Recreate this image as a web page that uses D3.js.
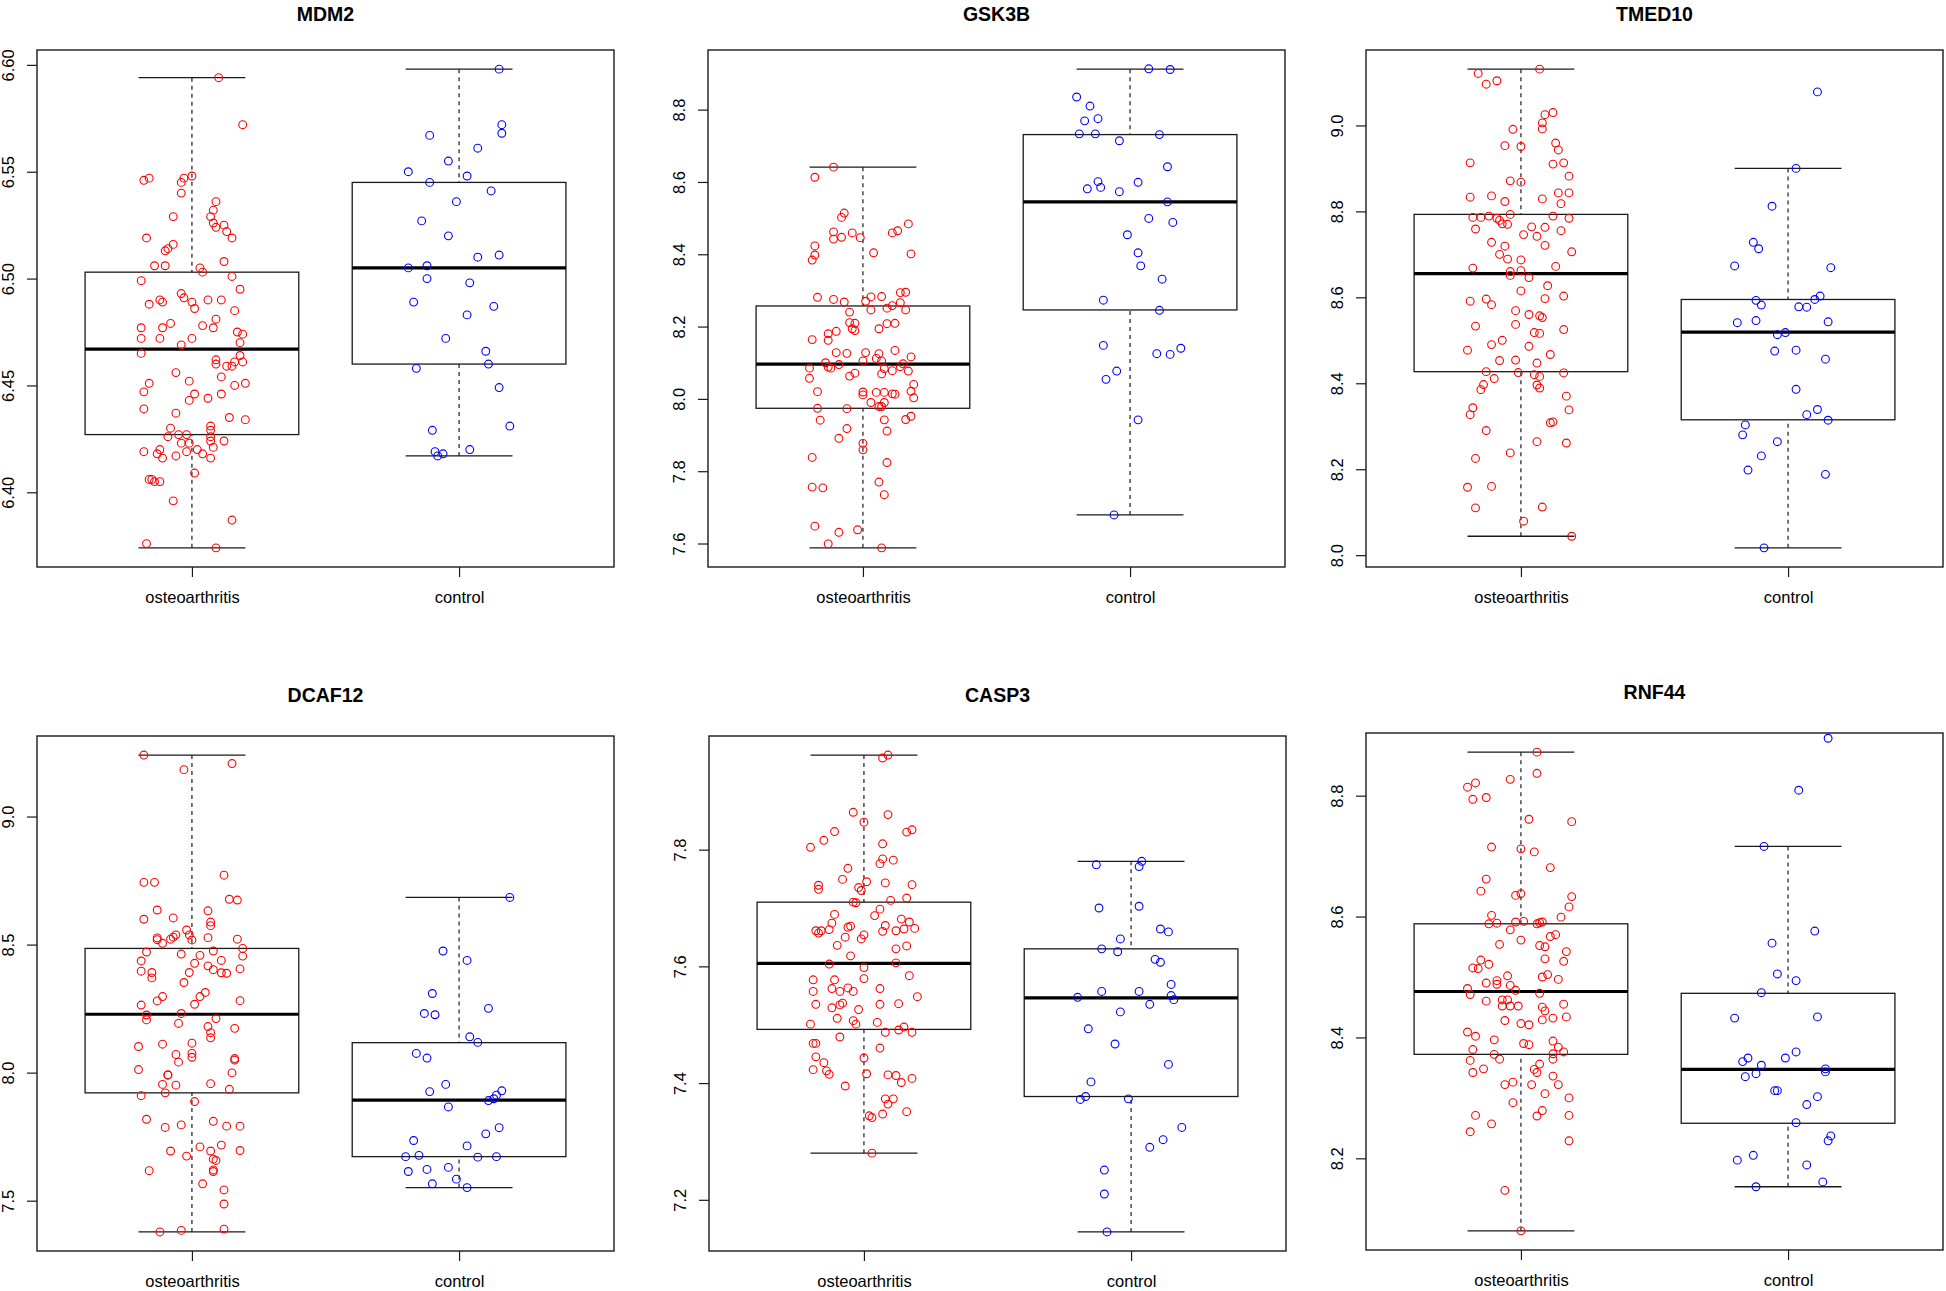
<!doctype html>
<html>
<head>
<meta charset="utf-8"/>
<title>Gene expression boxplots</title>
<script src="https://d3js.org/d3.v7.min.js"></script>
<style>
	body { margin: 0; background: #fff; }
	svg text { font-family: "Liberation Sans", Arial, Helvetica, sans-serif; }
</style>
</head>
<body>
<svg id="chart"></svg>
<script>
// groups and genes
var groupNames = ["osteoarthritis", "control"];
var genes = ["MDM2", "GSK3B", "TMED10", "DCAF12", "CASP3", "RNF44"];

// points: [jitter offset (group units), expression value]
var mdm2OA = [[0.10,6.594],[0.19,6.572],[-0.18,6.546],[-0.16,6.547],[-0.04,6.545],[-0.03,6.547],[0.00,6.548],[-0.04,6.540],[0.09,6.536],[0.08,6.532],[-0.07,6.529],[0.07,6.529],[0.08,6.526],[0.12,6.525],[0.13,6.522],[0.09,6.524],[-0.17,6.519],[0.15,6.519],[-0.07,6.516],[-0.09,6.514],[-0.10,6.513],[-0.14,6.506],[-0.10,6.506],[0.03,6.505],[0.04,6.503],[0.12,6.508],[0.15,6.501],[-0.19,6.499],[0.18,6.495],[-0.04,6.493],[-0.03,6.491],[-0.16,6.488],[-0.12,6.490],[-0.11,6.489],[0.00,6.489],[0.01,6.486],[0.06,6.490],[0.11,6.490],[0.16,6.485],[0.09,6.481],[-0.08,6.479],[-0.11,6.477],[-0.19,6.477],[0.04,6.478],[0.08,6.477],[-0.19,6.472],[-0.12,6.472],[0.00,6.472],[-0.04,6.469],[0.17,6.475],[0.19,6.474],[0.18,6.470],[-0.19,6.465],[0.18,6.464],[0.19,6.461],[0.09,6.462],[0.09,6.460],[0.13,6.459],[0.15,6.459],[0.16,6.461],[-0.06,6.456],[-0.16,6.451],[-0.18,6.447],[-0.01,6.452],[0.01,6.446],[0.11,6.454],[0.16,6.450],[0.20,6.451],[0.11,6.446],[0.06,6.444],[-0.01,6.443],[-0.18,6.439],[-0.06,6.437],[0.14,6.435],[0.20,6.434],[-0.08,6.430],[0.07,6.431],[0.07,6.429],[-0.09,6.426],[-0.05,6.427],[-0.02,6.427],[0.07,6.426],[0.07,6.424],[-0.04,6.423],[-0.01,6.423],[0.12,6.424],[-0.12,6.420],[-0.18,6.419],[0.02,6.420],[0.08,6.421],[-0.02,6.419],[-0.13,6.418],[-0.11,6.416],[-0.06,6.417],[0.04,6.418],[0.07,6.416],[0.01,6.409],[-0.16,6.406],[-0.15,6.406],[-0.14,6.405],[-0.12,6.405],[-0.07,6.396],[0.15,6.387],[-0.17,6.376],[0.09,6.374]];
var mdm2Ctrl = [[0.15,6.598],[0.16,6.572],[0.16,6.568],[-0.11,6.567],[0.07,6.561],[-0.04,6.555],[-0.19,6.550],[0.03,6.548],[-0.11,6.545],[0.12,6.541],[-0.01,6.536],[-0.14,6.527],[-0.04,6.520],[0.15,6.511],[0.07,6.510],[-0.19,6.505],[-0.12,6.506],[-0.12,6.500],[0.04,6.498],[-0.17,6.489],[0.13,6.487],[0.03,6.483],[-0.05,6.472],[0.10,6.466],[0.11,6.460],[-0.16,6.458],[0.15,6.449],[-0.10,6.429],[0.19,6.431],[0.04,6.420],[-0.09,6.419],[-0.08,6.417],[-0.06,6.418]];

var gsk3bOA = [[-0.11,8.641],[-0.18,8.613],[-0.07,8.514],[-0.08,8.502],[0.17,8.484],[-0.11,8.462],[-0.04,8.459],[0.11,8.459],[0.13,8.465],[-0.08,8.447],[-0.01,8.446],[-0.11,8.442],[-0.18,8.423],[-0.18,8.398],[-0.19,8.384],[0.04,8.404],[0.18,8.401],[-0.17,8.281],[-0.11,8.275],[-0.07,8.268],[0.03,8.282],[0.07,8.283],[0.01,8.270],[0.14,8.294],[0.16,8.295],[0.14,8.266],[0.11,8.258],[0.09,8.251],[0.03,8.246],[0.16,8.246],[-0.05,8.240],[-0.05,8.211],[-0.03,8.209],[0.09,8.208],[0.12,8.209],[-0.04,8.194],[-0.03,8.189],[0.06,8.194],[-0.10,8.187],[-0.13,8.180],[-0.19,8.164],[-0.13,8.162],[-0.10,8.128],[-0.06,8.126],[0.01,8.128],[0.06,8.125],[0.12,8.134],[0.18,8.116],[0.05,8.112],[0.07,8.105],[0.00,8.105],[-0.14,8.100],[-0.09,8.095],[0.15,8.097],[0.14,8.089],[-0.13,8.088],[-0.12,8.085],[-0.20,8.085],[0.08,8.084],[0.11,8.078],[0.17,8.077],[-0.03,8.071],[0.07,8.069],[-0.05,8.063],[-0.20,8.057],[0.19,8.040],[-0.17,8.020],[0.00,8.019],[0.05,8.018],[0.08,8.018],[0.11,8.014],[0.12,8.013],[0.18,8.021],[0.00,8.011],[0.19,8.003],[0.03,7.990],[0.08,7.990],[0.06,7.979],[0.07,7.979],[-0.17,7.974],[-0.06,7.973],[-0.16,7.941],[0.08,7.942],[0.16,7.943],[0.18,7.952],[-0.06,7.918],[0.09,7.911],[-0.09,7.891],[0.00,7.877],[0.00,7.859],[-0.19,7.838],[0.09,7.824],[-0.19,7.756],[-0.15,7.754],[0.06,7.770],[0.08,7.735],[-0.18,7.648],[-0.09,7.631],[-0.02,7.638],[-0.13,7.599],[0.07,7.588]];
var gsk3bCtrl = [[0.07,8.913],[0.15,8.911],[-0.20,8.835],[-0.15,8.810],[-0.17,8.769],[-0.12,8.775],[-0.19,8.733],[-0.13,8.733],[0.11,8.731],[-0.04,8.714],[0.14,8.642],[-0.12,8.601],[-0.16,8.581],[-0.11,8.585],[0.03,8.599],[-0.04,8.573],[0.14,8.545],[0.07,8.499],[0.16,8.488],[-0.01,8.454],[0.03,8.404],[0.04,8.368],[0.12,8.331],[-0.10,8.273],[0.11,8.245],[-0.10,8.148],[0.19,8.140],[0.10,8.125],[0.15,8.123],[-0.05,8.077],[-0.09,8.054],[0.03,7.942],[-0.06,7.679]];

var tmed10OA = [[0.07,9.131],[-0.16,9.121],[-0.13,9.096],[-0.09,9.104],[0.12,9.030],[0.09,9.025],[0.08,9.006],[0.08,8.992],[-0.03,8.991],[-0.06,8.953],[0.00,8.951],[0.13,8.959],[0.14,8.943],[-0.19,8.913],[0.12,8.910],[0.16,8.913],[0.18,8.882],[-0.04,8.871],[0.00,8.868],[0.14,8.843],[0.18,8.843],[-0.19,8.833],[-0.11,8.836],[-0.06,8.823],[0.08,8.829],[0.15,8.818],[-0.18,8.786],[-0.15,8.786],[-0.12,8.789],[-0.09,8.784],[-0.08,8.779],[-0.07,8.771],[-0.05,8.770],[-0.04,8.793],[0.12,8.789],[0.18,8.784],[-0.17,8.759],[0.04,8.764],[0.09,8.763],[0.01,8.746],[0.06,8.742],[0.15,8.755],[-0.11,8.728],[-0.06,8.719],[0.09,8.721],[0.19,8.706],[-0.08,8.700],[-0.05,8.689],[0.00,8.687],[-0.18,8.668],[0.13,8.672],[0.00,8.662],[-0.04,8.660],[-0.04,8.651],[0.03,8.646],[0.10,8.627],[0.00,8.615],[0.16,8.603],[-0.19,8.591],[-0.13,8.596],[-0.11,8.583],[0.09,8.597],[-0.02,8.569],[0.03,8.560],[0.07,8.557],[0.08,8.553],[-0.17,8.533],[-0.02,8.537],[0.16,8.525],[0.05,8.518],[0.07,8.516],[-0.07,8.500],[-0.11,8.490],[0.03,8.486],[-0.20,8.477],[0.11,8.467],[-0.08,8.453],[-0.02,8.454],[0.06,8.447],[-0.13,8.427],[-0.01,8.425],[0.05,8.420],[0.07,8.416],[0.16,8.424],[-0.10,8.411],[-0.14,8.397],[-0.15,8.385],[0.06,8.396],[0.07,8.389],[0.17,8.370],[-0.18,8.343],[-0.19,8.327],[0.18,8.338],[0.11,8.308],[0.12,8.310],[-0.13,8.290],[0.06,8.264],[0.17,8.261],[-0.04,8.238],[-0.17,8.225],[-0.20,8.158],[-0.11,8.160],[-0.17,8.110],[0.08,8.112],[0.01,8.079],[0.19,8.044]];
var tmed10Ctrl = [[0.11,9.078],[0.03,8.900],[-0.06,8.812],[-0.13,8.728],[-0.11,8.713],[-0.20,8.673],[0.16,8.669],[0.12,8.603],[0.10,8.595],[-0.12,8.593],[-0.10,8.582],[0.04,8.578],[0.07,8.577],[-0.19,8.541],[-0.12,8.546],[0.15,8.543],[-0.04,8.513],[-0.01,8.518],[-0.05,8.475],[0.03,8.477],[0.14,8.456],[0.03,8.386],[0.11,8.339],[0.07,8.327],[0.15,8.314],[-0.16,8.303],[-0.17,8.280],[-0.04,8.264],[-0.10,8.231],[-0.15,8.198],[0.14,8.188],[-0.09,8.017]];

var dcaf12OA = [[-0.18,9.240],[0.15,9.207],[-0.03,9.183],[0.12,8.771],[-0.18,8.743],[-0.14,8.743],[0.14,8.677],[0.17,8.674],[-0.13,8.635],[0.06,8.632],[-0.07,8.604],[-0.18,8.599],[0.07,8.588],[0.07,8.574],[-0.02,8.557],[-0.01,8.538],[-0.06,8.538],[-0.07,8.529],[-0.08,8.521],[-0.13,8.526],[-0.13,8.519],[0.00,8.518],[-0.11,8.505],[0.06,8.527],[0.17,8.521],[0.19,8.485],[-0.17,8.471],[-0.04,8.463],[0.08,8.475],[0.03,8.458],[0.19,8.455],[-0.19,8.436],[0.11,8.438],[0.01,8.427],[0.06,8.417],[-0.19,8.396],[-0.15,8.391],[-0.01,8.391],[0.08,8.402],[0.11,8.390],[0.13,8.388],[0.18,8.405],[-0.15,8.370],[-0.03,8.352],[0.05,8.313],[0.03,8.297],[-0.11,8.297],[-0.13,8.280],[0.18,8.281],[-0.19,8.264],[0.01,8.267],[-0.17,8.225],[-0.04,8.231],[-0.17,8.206],[0.09,8.211],[-0.05,8.192],[0.06,8.180],[0.16,8.173],[0.07,8.156],[0.07,8.136],[0.00,8.115],[-0.20,8.102],[-0.11,8.111],[-0.06,8.071],[0.00,8.075],[0.00,8.060],[0.16,8.055],[0.16,8.049],[-0.05,8.041],[-0.20,8.012],[-0.09,7.990],[-0.09,7.992],[0.15,7.999],[-0.11,7.954],[-0.06,7.951],[0.07,7.957],[0.14,7.935],[-0.19,7.910],[-0.10,7.921],[0.01,7.887],[-0.17,7.818],[0.08,7.810],[-0.10,7.786],[-0.04,7.796],[0.13,7.791],[0.18,7.791],[0.03,7.710],[0.11,7.717],[-0.08,7.694],[0.07,7.694],[0.18,7.696],[-0.02,7.674],[0.08,7.662],[0.09,7.657],[-0.16,7.617],[0.08,7.620],[0.08,7.614],[0.04,7.566],[0.12,7.542],[0.12,7.487],[-0.12,7.378],[-0.04,7.384],[0.12,7.389]];
var dcaf12Ctrl = [[0.19,8.684],[-0.06,8.475],[0.03,8.438],[-0.10,8.309],[0.11,8.251],[-0.13,8.231],[-0.09,8.226],[0.04,8.140],[0.07,8.118],[-0.16,8.075],[-0.12,8.057],[-0.05,7.954],[-0.11,7.926],[0.16,7.929],[0.14,7.912],[0.13,7.898],[0.11,7.891],[-0.04,7.866],[0.15,7.785],[0.10,7.761],[-0.17,7.735],[0.03,7.714],[-0.20,7.672],[-0.15,7.677],[0.07,7.670],[0.14,7.672],[-0.19,7.614],[-0.12,7.622],[-0.04,7.630],[-0.01,7.584],[-0.10,7.566],[0.03,7.551]];

var casp3OA = [[0.09,7.962],[0.07,7.957],[-0.04,7.864],[0.09,7.860],[0.00,7.847],[-0.11,7.831],[0.16,7.830],[0.18,7.834],[-0.15,7.816],[-0.20,7.804],[0.07,7.810],[0.07,7.784],[0.11,7.782],[0.06,7.776],[-0.06,7.768],[-0.08,7.749],[0.01,7.745],[0.08,7.743],[0.18,7.740],[-0.17,7.739],[-0.17,7.732],[-0.02,7.735],[-0.01,7.730],[0.16,7.717],[0.10,7.713],[-0.04,7.710],[-0.03,7.709],[0.06,7.698],[-0.11,7.689],[0.04,7.687],[0.14,7.681],[-0.12,7.674],[0.17,7.676],[0.08,7.670],[-0.05,7.669],[-0.06,7.667],[0.19,7.665],[0.15,7.664],[0.12,7.661],[0.07,7.660],[-0.13,7.663],[-0.18,7.661],[-0.16,7.661],[-0.17,7.657],[0.00,7.654],[-0.07,7.650],[-0.01,7.647],[-0.10,7.636],[0.16,7.635],[0.12,7.630],[-0.05,7.618],[0.12,7.606],[-0.13,7.604],[0.00,7.598],[0.17,7.584],[0.00,7.579],[-0.19,7.577],[-0.11,7.577],[0.20,7.548],[-0.19,7.557],[-0.12,7.562],[-0.09,7.557],[-0.06,7.563],[-0.04,7.557],[0.06,7.562],[-0.18,7.535],[-0.09,7.534],[-0.08,7.537],[0.06,7.535],[0.13,7.536],[-0.12,7.529],[-0.02,7.526],[-0.10,7.511],[-0.04,7.507],[-0.03,7.501],[0.05,7.504],[-0.20,7.501],[0.15,7.496],[0.13,7.491],[0.18,7.487],[0.08,7.487],[-0.09,7.479],[-0.19,7.468],[-0.18,7.468],[0.06,7.460],[-0.18,7.445],[0.00,7.443],[-0.15,7.435],[-0.19,7.423],[-0.14,7.421],[-0.13,7.415],[0.01,7.416],[0.09,7.414],[0.12,7.413],[0.18,7.408],[0.14,7.401],[-0.07,7.395],[0.08,7.373],[0.11,7.373],[0.09,7.364],[0.07,7.347],[0.16,7.351],[0.02,7.344],[0.03,7.341],[0.03,7.280]];
var casp3Ctrl = [[0.04,7.780],[-0.13,7.774],[0.03,7.771],[-0.12,7.700],[0.03,7.703],[0.11,7.664],[0.14,7.659],[-0.04,7.647],[-0.11,7.630],[-0.05,7.625],[0.09,7.612],[0.11,7.607],[0.15,7.569],[-0.20,7.547],[-0.11,7.557],[0.03,7.557],[0.15,7.550],[0.16,7.543],[0.07,7.535],[-0.04,7.522],[-0.16,7.493],[-0.06,7.467],[0.14,7.432],[-0.15,7.402],[-0.19,7.372],[-0.17,7.377],[-0.01,7.373],[0.19,7.324],[0.12,7.303],[0.07,7.290],[-0.10,7.251],[-0.10,7.210],[-0.09,7.145]];

var rnf44OA = [[0.06,8.872],[0.06,8.837],[-0.04,8.827],[-0.17,8.821],[-0.20,8.814],[-0.18,8.794],[-0.13,8.797],[0.03,8.761],[0.19,8.757],[-0.11,8.715],[0.00,8.712],[0.05,8.707],[0.11,8.681],[-0.13,8.662],[-0.15,8.642],[-0.02,8.635],[0.00,8.638],[0.19,8.633],[0.18,8.616],[-0.11,8.602],[0.15,8.599],[-0.12,8.588],[-0.09,8.589],[-0.02,8.591],[0.01,8.592],[0.06,8.588],[0.07,8.590],[0.08,8.591],[-0.04,8.578],[0.11,8.567],[0.13,8.570],[0.00,8.561],[-0.08,8.554],[0.07,8.552],[0.09,8.550],[0.17,8.542],[0.09,8.530],[-0.15,8.528],[0.16,8.526],[-0.12,8.521],[-0.18,8.515],[-0.16,8.514],[-0.05,8.502],[0.10,8.504],[0.08,8.500],[0.14,8.496],[-0.09,8.494],[-0.13,8.490],[-0.09,8.488],[-0.04,8.486],[-0.20,8.481],[-0.02,8.478],[-0.19,8.471],[0.07,8.473],[-0.13,8.460],[-0.07,8.462],[-0.05,8.462],[-0.07,8.452],[-0.04,8.452],[-0.01,8.452],[0.08,8.450],[0.16,8.455],[0.09,8.444],[-0.06,8.428],[0.08,8.429],[0.12,8.432],[0.17,8.434],[0.00,8.423],[0.03,8.421],[-0.20,8.409],[-0.17,8.402],[-0.10,8.396],[0.12,8.394],[0.01,8.390],[0.03,8.388],[0.14,8.384],[-0.18,8.380],[-0.10,8.372],[0.12,8.373],[0.16,8.376],[-0.19,8.362],[-0.08,8.364],[0.12,8.364],[0.07,8.356],[-0.14,8.348],[-0.18,8.342],[0.05,8.347],[0.06,8.342],[0.12,8.336],[-0.03,8.326],[-0.06,8.322],[0.04,8.322],[0.14,8.322],[0.09,8.307],[0.18,8.300],[-0.03,8.292],[0.08,8.279],[-0.17,8.271],[0.06,8.270],[0.18,8.271],[-0.11,8.257],[-0.19,8.244],[0.18,8.229],[-0.06,8.147],[0.00,8.080]];
var rnf44Ctrl = [[0.15,8.895],[0.04,8.809],[-0.09,8.716],[0.10,8.576],[-0.06,8.556],[-0.04,8.505],[0.03,8.494],[-0.10,8.474],[-0.20,8.432],[0.11,8.434],[0.03,8.376],[-0.01,8.366],[-0.15,8.366],[-0.17,8.360],[-0.10,8.354],[0.14,8.348],[0.14,8.343],[-0.12,8.340],[-0.16,8.335],[-0.05,8.312],[-0.04,8.312],[0.11,8.302],[0.07,8.289],[0.03,8.259],[0.16,8.237],[0.15,8.229],[-0.13,8.205],[-0.19,8.197],[0.07,8.189],[0.13,8.161],[-0.12,8.153]];

// box stats: [lower whisker, Q1, median, Q3, upper whisker]
var mdm2Stats = [[6.374,6.427,6.467,6.503,6.594],[6.417,6.460,6.505,6.545,6.598]];
var gsk3bStats = [[7.588,7.974,8.096,8.257,8.641],[7.679,8.246,8.545,8.731,8.912]];
var tmed10Stats = [[8.044,8.427,8.655,8.793,9.131],[8.017,8.315,8.519,8.595,8.900]];
var dcaf12Stats = [[7.378,7.921,8.228,8.485,9.240],[7.551,7.672,7.893,8.117,8.684]];
var casp3Stats = [[7.280,7.492,7.605,7.710,7.962],[7.145,7.377,7.546,7.630,7.780]];
var rnf44Stats = [[8.080,8.372,8.476,8.588,8.872],[8.153,8.258,8.347,8.473,8.716]];

// y tick labels
var mdm2Ticks = ["6.40","6.45","6.50","6.55","6.60"];
var gsk3bTicks = ["7.6","7.8","8.0","8.2","8.4","8.6","8.8"];
var tmed10Ticks = ["8.0","8.2","8.4","8.6","8.8","9.0"];
var dcaf12Ticks = ["7.5","8.0","8.5","9.0"];
var casp3Ticks = ["7.2","7.4","7.6","7.8"];
var rnf44Ticks = ["8.2","8.4","8.6","8.8"];

var pointsByGene = [[mdm2OA, mdm2Ctrl],[gsk3bOA, gsk3bCtrl],[tmed10OA, tmed10Ctrl],[dcaf12OA, dcaf12Ctrl],[casp3OA, casp3Ctrl],[rnf44OA, rnf44Ctrl]];
var statsByGene = [mdm2Stats, gsk3bStats, tmed10Stats, dcaf12Stats, casp3Stats, rnf44Stats];
var ticksByGene = [mdm2Ticks, gsk3bTicks, tmed10Ticks, dcaf12Ticks, casp3Ticks, rnf44Ticks];
var pointColors = ["#ff0000", "#0000ff"];

// panel frames (pixels)
var panelLeft = [37, 708, 1366, 37, 709, 1366];
var panelTop = [50, 50, 50, 736, 736, 733];
var panelH = [517, 517, 517, 515, 515, 517];
var panelW = 577;

var svg = d3.select("#chart").attr("width", 1946).attr("height", 1291);
var ink = "#1a1a1a";

genes.forEach(function (gene, i) {
	var left = panelLeft[i], top = panelTop[i], h = panelH[i];
	var stats = statsByGene[i];
	var lo = d3.min(stats, function (s) { return s[0]; });
	var hi = d3.max(stats, function (s) { return s[4]; });
	var pad = (hi - lo) * 0.04;

	var y = d3.scaleLinear().domain([lo - pad, hi + pad]).range([top + h, top]);
	var x = d3.scaleLinear().domain([0.5 - 0.08, 2.5 + 0.08]).range([left, left + panelW]);

	var g = svg.append("g");

	g.append("clipPath").attr("id", "clip" + i)
		.append("rect").attr("x", left).attr("y", top).attr("width", panelW).attr("height", h);

	// boxes
	stats.forEach(function (s, k) {
		var c = k + 1;
		g.append("line").attr("x1", x(c)).attr("x2", x(c)).attr("y1", y(s[0])).attr("y2", y(s[1]))
			.attr("stroke", ink).attr("stroke-width", 1.2).attr("stroke-dasharray", "4,4");
		g.append("line").attr("x1", x(c)).attr("x2", x(c)).attr("y1", y(s[4])).attr("y2", y(s[3]))
			.attr("stroke", ink).attr("stroke-width", 1.2).attr("stroke-dasharray", "4,4");
		[s[0], s[4]].forEach(function (v) {
			g.append("line").attr("x1", x(c - 0.2)).attr("x2", x(c + 0.2)).attr("y1", y(v)).attr("y2", y(v))
				.attr("stroke", ink).attr("stroke-width", 1.3);
		});
		g.append("rect")
			.attr("x", x(c - 0.4)).attr("y", y(s[3]))
			.attr("width", x(c + 0.4) - x(c - 0.4)).attr("height", y(s[1]) - y(s[3]))
			.attr("fill", "none").attr("stroke", ink).attr("stroke-width", 1.3);
		g.append("line").attr("x1", x(c - 0.4)).attr("x2", x(c + 0.4)).attr("y1", y(s[2])).attr("y2", y(s[2]))
			.attr("stroke", "#000").attr("stroke-width", 3.2);
	});

	// jittered points
	pointsByGene[i].forEach(function (pts, k) {
		g.append("g").attr("clip-path", "url(#clip" + i + ")")
			.selectAll("circle")
			.data(pts)
			.enter()
			.append("circle")
			.attr("cx", function (d) { return x(k + 1 + d[0]); })
			.attr("cy", function (d) { return y(d[1]); })
			.attr("r", 3.9)
			.attr("fill", "none")
			.attr("stroke", pointColors[k])
			.attr("stroke-width", 1.1);
	});

	// frame
	g.append("rect").attr("x", left).attr("y", top).attr("width", panelW).attr("height", h)
		.attr("fill", "none").attr("stroke", ink).attr("stroke-width", 1.4);

	// y axis
	var tickVals = ticksByGene[i].map(Number);
	var yAxis = d3.axisLeft(y).tickValues(tickVals)
		.tickFormat(function (d, j) { return ticksByGene[i][j]; })
		.tickSize(10).tickSizeOuter(0);
	var ya = g.append("g").attr("transform", "translate(" + left + ",0)").call(yAxis);
	ya.select(".domain").remove();
	ya.selectAll("line").attr("stroke", ink).attr("stroke-width", 1.2);
	ya.selectAll("text")
		.attr("x", null).attr("dy", null)
		.attr("transform", "translate(-23,0) rotate(-90)")
		.attr("text-anchor", "middle")
		.attr("fill", "#000")
		.style("font-size", "16.5px");

	// x axis
	var xAxis = d3.axisBottom(x).tickValues([1, 2])
		.tickFormat(function (d) { return groupNames[d - 1]; })
		.tickSize(10).tickSizeOuter(0);
	var xa = g.append("g").attr("transform", "translate(0," + (top + h) + ")").call(xAxis);
	xa.select(".domain").remove();
	xa.selectAll("line").attr("stroke", ink).attr("stroke-width", 1.2);
	xa.selectAll("text")
		.attr("y", 24.5)
		.attr("fill", "#000")
		.style("font-size", "16.5px");

	// title
	g.append("text")
		.attr("x", left + panelW / 2)
		.attr("y", Math.max(top - 34, 21))
		.attr("text-anchor", "middle")
		.style("font-size", "19.5px")
		.style("font-weight", "bold")
		.text(gene);
});
</script>
</body>
</html>
